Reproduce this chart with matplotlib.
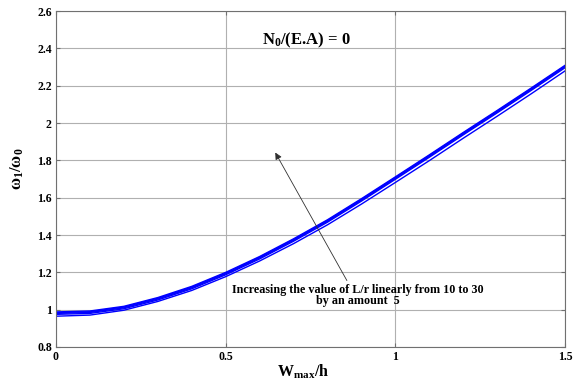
import matplotlib
matplotlib.use("Agg")
import matplotlib.pyplot as plt
import numpy as np

# Wmax/h samples
w = [0.0, 0.1, 0.2, 0.3, 0.4, 0.5, 0.6, 0.7, 0.8, 0.9, 1.0, 1.1, 1.2, 1.3, 1.4, 1.5]

# frequency ratio for L/r = 10, 15, 20, 25, 30
lr10 = [0.965, 0.971, 0.997, 1.044, 1.103, 1.177, 1.261, 1.354, 1.455, 1.566, 1.682, 1.799, 1.919, 2.037, 2.157, 2.280]
lr15 = [0.975, 0.980, 1.005, 1.052, 1.112, 1.187, 1.272, 1.367, 1.469, 1.582, 1.699, 1.817, 1.937, 2.055, 2.175, 2.297]
lr20 = [0.980, 0.985, 1.010, 1.057, 1.117, 1.192, 1.277, 1.372, 1.474, 1.587, 1.704, 1.822, 1.942, 2.060, 2.180, 2.302]
lr25 = [0.984, 0.989, 1.014, 1.061, 1.121, 1.196, 1.281, 1.376, 1.478, 1.591, 1.708, 1.826, 1.946, 2.064, 2.184, 2.306]
lr30 = [0.988, 0.993, 1.018, 1.065, 1.125, 1.200, 1.285, 1.380, 1.482, 1.595, 1.712, 1.830, 1.950, 2.068, 2.188, 2.310]

xticks = [0, 0.5, 1, 1.5]
xlabels = ["0", "0.5", "1", "1.5"]
yticks = [0.8, 1.0, 1.2, 1.4, 1.6, 1.8, 2.0, 2.2, 2.4, 2.6]
ylabels = ["0.8", "1", "1.2", "1.4", "1.6", "1.8", "2", "2.2", "2.4", "2.6"]

plt.rcParams["font.family"] = "Liberation Serif"
plt.rcParams["font.weight"] = "bold"
plt.rcParams["mathtext.fontset"] = "custom"
plt.rcParams["mathtext.rm"] = "Liberation Serif:bold"
plt.rcParams["mathtext.it"] = "Liberation Serif:bold"
plt.rcParams["mathtext.bf"] = "Liberation Serif:bold"

fig = plt.figure(figsize=(5.76, 3.83), dpi=100)
ax = fig.add_axes([0.0972, 0.094, 0.884, 0.877])

for ys in [lr10, lr15, lr20, lr25, lr30]:
    ax.plot(w, ys, color="#0000ff", lw=1.0)

ax.set_xlim(0, 1.5)
ax.set_ylim(0.8, 2.6)
ax.set_xticks(xticks)
ax.set_xticklabels(xlabels, fontsize=8.5, fontweight="bold")
ax.set_yticks(yticks)
ax.set_yticklabels(ylabels, fontsize=8.5, fontweight="bold")
ax.tick_params(direction="in", length=3, color="#707070", top=True, right=True, pad=3)
ax.grid(True, color="#b0b0b0", lw=0.8)
for s in ax.spines.values():
    s.set_color("#707070")
    s.set_linewidth(0.8)

ax.set_xlabel("W$_{max}$/h", fontsize=11.5, fontweight="bold")
ax.xaxis.set_label_coords(0.485, -0.045)
ax.set_ylabel(r"$\omega_1/\omega_0$", fontsize=12, fontweight="bold")
ax.yaxis.set_label_coords(-0.058, 0.53)

ax.text(0.737, 2.445, "N$_0$/(E.A) = 0", fontsize=12, fontweight="bold", ha="center", va="center")

ax.annotate("", xy=(0.642, 1.855), xytext=(0.861, 1.143),
            arrowprops=dict(arrowstyle="-|>", color="#303030", lw=0.6, mutation_scale=10))
ax.text(0.89, 1.076, "Increasing the value of L/r linearly from 10 to 30\nby an amount  5",
        fontsize=8.7, fontweight="bold", ha="center", va="center", linespacing=0.95)

plt.savefig("out.png", dpi=100)
